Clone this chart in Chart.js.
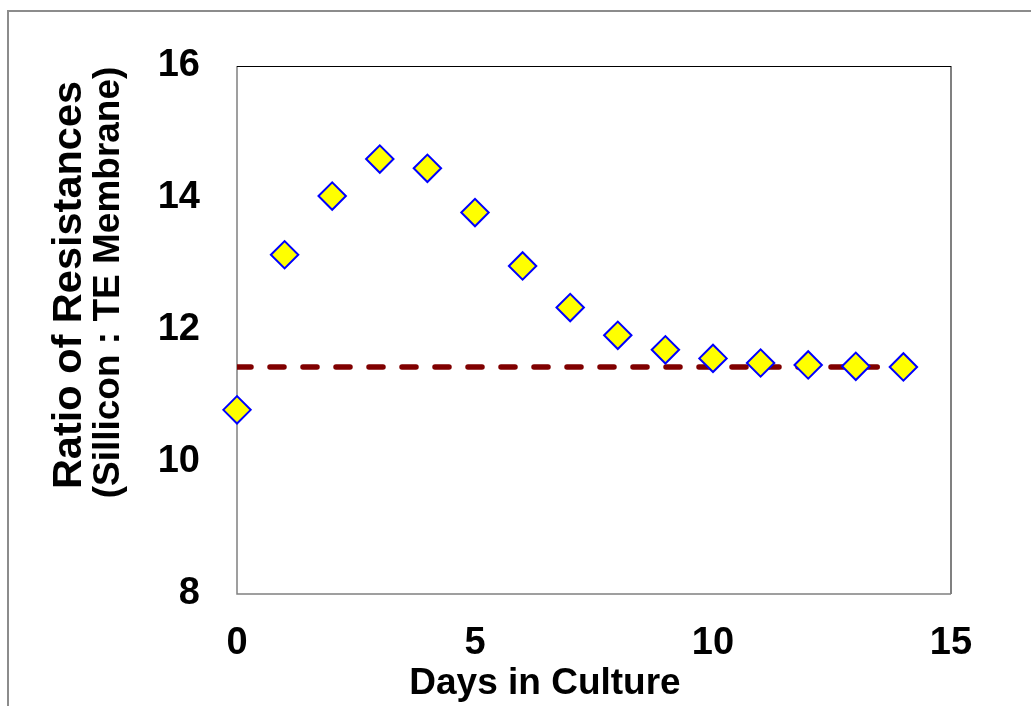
<!DOCTYPE html>
<html>
<head>
<meta charset="utf-8">
<script src="https://cdn.jsdelivr.net/npm/chart.js@4"></script>
<style>
  html, body { margin: 0; padding: 0; background: #fff; overflow: hidden; }
  #frame { position: absolute; left: 7px; top: 10px; width: 1100px; height: 800px; border: 2px solid #8c8c8c; }
  #wrap { position: absolute; left: 0; top: 0; width: 1031px; height: 706px; }
</style>
</head>
<body>
<div id="frame"></div>
<div id="wrap"><canvas id="ratio-chart"></canvas></div>
<script>
// data
const days = [0, 1, 2, 3, 4, 5, 6, 7, 8, 9, 10, 11, 12, 13, 14];
const ratios = [10.79, 13.14, 14.03, 14.59, 14.45, 13.78, 12.97, 12.34, 11.92, 11.70, 11.57, 11.50, 11.47, 11.45, 11.44];
const baselineDays = [0, 13.45];
const baselineRatio = [11.44, 11.44];
const xTicks = [0, 5, 10, 15];
const yTicks = [8, 10, 12, 14, 16];

const FONT = '"Liberation Sans", Arial, Helvetica, sans-serif';

const points = days.map((d, i) => ({ x: d, y: ratios[i] }));
const baseline = baselineDays.map((d, i) => ({ x: d, y: baselineRatio[i] }));

// plot box: black top edge, grey on the other three
const framePlugin = {
  id: 'frame',
  beforeDatasetsDraw(chart) {
    const { ctx, chartArea: a } = chart;
    ctx.save();
    ctx.strokeStyle = '#808080';
    ctx.lineWidth = 1.5;
    ctx.beginPath();
    ctx.moveTo(a.left, a.top);
    ctx.lineTo(a.left, a.bottom);
    ctx.lineTo(a.right, a.bottom);
    ctx.stroke();
    ctx.lineWidth = 2;
    ctx.beginPath();
    ctx.moveTo(a.right, a.top);
    ctx.lineTo(a.right, a.bottom);
    ctx.stroke();
    ctx.strokeStyle = '#000';
    ctx.lineWidth = 1;
    ctx.beginPath();
    ctx.moveTo(a.left, a.top + 0.5);
    ctx.lineTo(a.right, a.top + 0.5);
    ctx.stroke();
    ctx.restore();
  }
};

// axis titles sit off-centre in the original, so draw them by hand
const titlesPlugin = {
  id: 'titles',
  afterDraw(chart) {
    const { ctx } = chart;
    ctx.save();
    ctx.fillStyle = '#000';
    ctx.textAlign = 'center';
    ctx.textBaseline = 'middle';
    ctx.font = 'bold 37px ' + FONT;
    ctx.fillText('Days in Culture', 545, 684);

    ctx.translate(70, 285);
    ctx.rotate(-Math.PI / 2);
    ctx.font = 'bold 41.5px ' + FONT;
    ctx.fillText('Ratio of Resistances', 0, 0);
    ctx.font = 'bold 37px ' + FONT;
    ctx.fillText('(Sillicon : TE Membrane)', 2.5, 39);
    ctx.restore();
  }
};

new Chart(document.getElementById('ratio-chart'), {
  type: 'scatter',
  data: {
    datasets: [
      {
        label: 'Ratio',
        data: points,
        pointStyle: 'rectRot',
        pointRadius: 13.7,
        pointHoverRadius: 13.7,
        pointBorderWidth: 2,
        pointBackgroundColor: '#ffff00',
        pointBorderColor: '#0000ff',
        clip: false,
        order: 1
      },
      {
        type: 'line',
        label: 'Baseline',
        data: baseline,
        showLine: true,
        fill: false,
        borderColor: '#800000',
        borderWidth: 5.5,
        borderDash: [14, 19],
        borderCapStyle: 'round',
        pointRadius: 0,
        order: 2
      }
    ]
  },
  options: {
    responsive: true,
    maintainAspectRatio: false,
    animation: false,
    events: [],
    layout: { padding: { left: 0, top: 66, right: 80, bottom: 0 } },
    plugins: {
      legend: { display: false },
      tooltip: { enabled: false }
    },
    scales: {
      x: {
        type: 'linear',
        min: xTicks[0],
        max: xTicks[xTicks.length - 1],
        grid: { display: false, drawTicks: false },
        border: { display: false },
        ticks: {
          stepSize: xTicks[1] - xTicks[0],
          padding: 31,
          color: '#000',
          font: { family: FONT, size: 38, weight: 'bold', lineHeight: 1 }
        },
        afterFit: s => { s.height = 112; }
      },
      y: {
        type: 'linear',
        min: yTicks[0],
        max: yTicks[yTicks.length - 1],
        grid: { display: false, drawTicks: false },
        border: { display: false },
        ticks: {
          stepSize: yTicks[1] - yTicks[0],
          padding: 37,
          color: '#000',
          font: { family: FONT, size: 38, weight: 'bold', lineHeight: 1 }
        },
        afterFit: s => { s.width = 237; }
      }
    }
  },
  plugins: [framePlugin, titlesPlugin]
});
</script>
</body>
</html>
